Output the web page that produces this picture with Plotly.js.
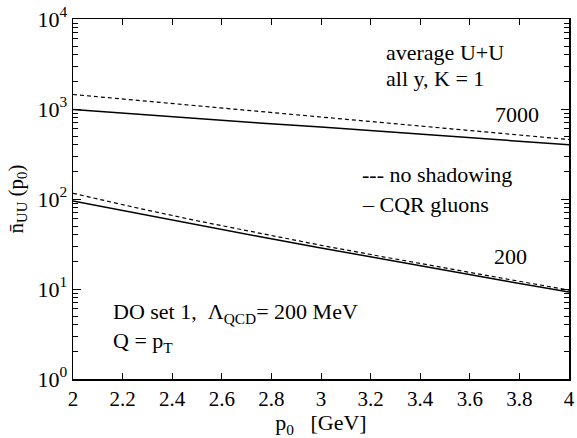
<!DOCTYPE html>
<html>
<head>
<meta charset="utf-8">
<script src="https://cdn.plot.ly/plotly-3.0.1.min.js"></script>
<style>html,body{margin:0;padding:0;background:#fff;}#chart{width:577px;height:438px;}</style>
</head>
<body>
<div id="chart"></div>
<script>
const p0 = [2, 2.25, 2.5, 2.75, 3, 3.25, 3.5, 3.75, 4];
const n7000NoShadow = [1449, 1256, 1086, 940, 814, 706, 612, 529, 458];
const n7000CQR = [986, 875, 788, 701, 631, 564, 504, 449, 400];
const n200NoShadow = [115.7, 80.5, 57.3, 41.6, 30.6, 22.8, 17.2, 12.8, 9.7];
const n200CQR = [95, 69.9, 51.7, 38.3, 28.6, 21.4, 16.3, 12.2, 9.26];
const xTicks = [2, 2.2, 2.4, 2.6, 2.8, 3, 3.2, 3.4, 3.6, 3.8, 4];
const yDecades = [1, 10, 100, 1000, 10000];
const yDecadeLabels = ['10<sup>0</sup>', '10<sup>1</sup>', '10<sup>2</sup>', '10<sup>3</sup>', '10<sup>4</sup>'];
const yMinor = [];
for (const d of [1, 10, 100, 1000]) for (let k = 2; k <= 9; k++) yMinor.push(d * k);

const serif = 'Liberation Serif';
const dashed = {color: '#000', width: 1.2, dash: '4px,3px'};
const solid = {color: '#000', width: 1.5};

const traces = [
  {x: p0, y: n7000NoShadow, mode: 'lines', line: dashed, showlegend: false},
  {x: p0, y: n7000CQR, mode: 'lines', line: solid, showlegend: false},
  {x: p0, y: n200NoShadow, mode: 'lines', line: dashed, showlegend: false},
  {x: p0, y: n200CQR, mode: 'lines', line: solid, showlegend: false}
];

const ann = (text, x, y) => ({text, x, y, xref: 'paper', yref: 'paper', xanchor: 'left', yanchor: 'middle', showarrow: false, font: {family: serif, size: 22, color: '#000'}});

const layout = {
  width: 577, height: 438,
  margin: {l: 73, r: 8, t: 19, b: 59},
  paper_bgcolor: '#fff', plot_bgcolor: '#fff',
  font: {family: serif, size: 20, color: '#000'},
  xaxis: {
    range: [2, 4], tickvals: xTicks, ticktext: xTicks.map(String),
    ticks: 'inside', ticklen: 6, tickcolor: '#000', tickwidth: 1,
    showline: true, linecolor: '#000', linewidth: 1.5, mirror: 'allticks',
    showgrid: false, zeroline: false,
    tickfont: {family: serif, size: 21},
    title: {text: 'p<sub>0</sub>\u00a0\u00a0\u00a0[GeV]', font: {family: serif, size: 22}, standoff: 6}
  },
  yaxis: {
    type: 'log', range: [0, 4], tickvals: yDecades, ticktext: yDecadeLabels,
    ticks: 'inside', ticklen: 8, tickcolor: '#000', tickwidth: 1,
    minor: {tickvals: yMinor, ticks: 'inside', ticklen: 5, tickcolor: '#000', tickwidth: 1, showgrid: false},
    showline: true, linecolor: '#000', linewidth: 1.5, mirror: 'allticks',
    showgrid: false, zeroline: false,
    tickfont: {family: serif, size: 22},
    title: {text: 'n\u0304<sub>UU</sub>\u00a0(p<sub>0</sub>)', font: {family: serif, size: 21}, standoff: 8}
  },
  annotations: [
    ann('average U+U', 0.627, 0.908),
    ann('all y, K = 1', 0.627, 0.836),
    ann('7000', 0.847, 0.736),
    ann('--- no shadowing', 0.578, 0.569),
    ann('\u2013 CQR gluons', 0.578, 0.486),
    ann('200', 0.845, 0.339),
    ann('DO set 1,\u00a0\u00a0\u039b<sub>QCD</sub>= 200 MeV', 0.077, 0.183),
    ann('Q = p<sub>T</sub>', 0.077, 0.103)
  ]
};

Plotly.newPlot('chart', traces, layout, {staticPlot: true, displayModeBar: false});
</script>
</body>
</html>
